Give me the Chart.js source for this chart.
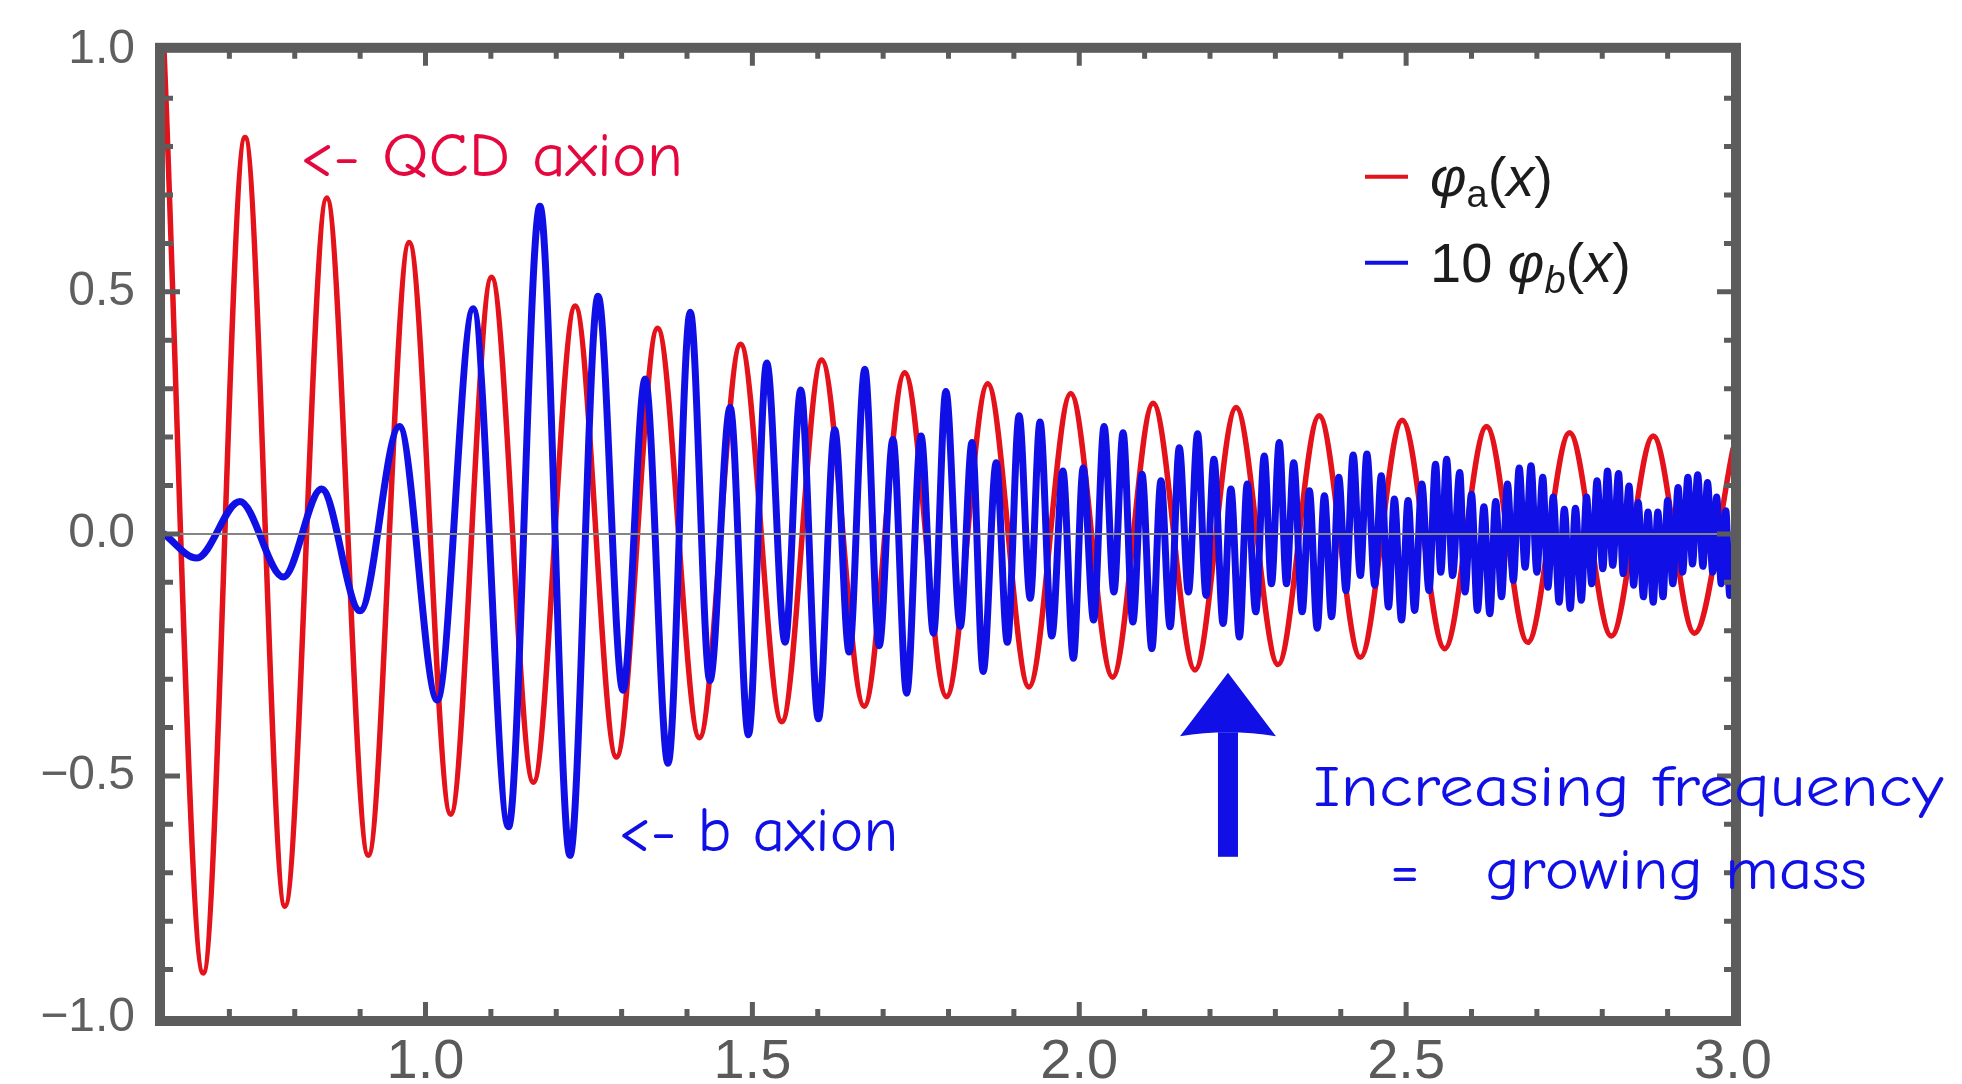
<!DOCTYPE html>
<html>
<head>
<meta charset="utf-8">
<title>QCD axion and b axion oscillations</title>
<script src="https://cdn.jsdelivr.net/npm/chart.js@4.4.1/dist/chart.umd.min.js"></script>
<style>
  html, body { margin: 0; padding: 0; background: #ffffff; }
  canvas { display: block; }
</style>
</head>
<body>
<canvas id="chart" width="1962" height="1084"></canvas>
<script>
// phi_a(x): peaks and troughs
const redX = [0.600, 0.660, 0.724, 0.785, 0.849, 0.9125, 0.975, 1.0385,
              1.101, 1.165, 1.229, 1.292, 1.355, 1.419, 1.482, 1.545,
              1.606, 1.671, 1.733, 1.797, 1.860, 1.923, 1.987, 2.051,
              2.113, 2.177, 2.240, 2.304, 2.367, 2.430, 2.494,
              2.559, 2.623, 2.686, 2.750, 2.814, 2.878, 2.941, 3.000];
const redY = [1.000, -0.907, 0.819, -0.769, 0.694, -0.664, 0.602, -0.579,
              0.530, -0.513, 0.471, -0.461, 0.425, -0.421, 0.392, -0.388,
              0.359, -0.356, 0.333, -0.336, 0.310, -0.316, 0.290, -0.296,
              0.270, -0.281, 0.261, -0.270, 0.244, -0.255, 0.235,
              -0.237, 0.222, -0.224, 0.209, -0.211, 0.202, -0.205, 0.176];

// 10 phi_b(x): peaks and troughs
const blueX = [0.600, 0.650, 0.716, 0.7825, 0.841, 0.900, 0.960, 1.018,
               1.073, 1.127, 1.175, 1.221, 1.264, 1.302, 1.336, 1.371,
               1.405, 1.435, 1.466, 1.494, 1.522, 1.550, 1.574, 1.601,
               1.626, 1.648, 1.672, 1.694, 1.715, 1.736, 1.758, 1.777,
               1.796, 1.818, 1.836, 1.853, 1.873, 1.890, 1.908, 1.925,
               1.940, 1.958, 1.975, 1.991, 2.006, 2.022, 2.038, 2.053,
               2.067, 2.082, 2.096, 2.111, 2.125, 2.139, 2.153, 2.167,
               2.181, 2.194, 2.206, 2.220, 2.232, 2.245, 2.257, 2.270,
               2.283, 2.294, 2.306, 2.317, 2.328, 2.341, 2.352, 2.364,
               2.375, 2.386, 2.397, 2.408, 2.419, 2.430, 2.440, 2.452,
               2.462, 2.473, 2.482, 2.493, 2.503, 2.513, 2.524, 2.535,
               2.545, 2.553, 2.562, 2.571, 2.582, 2.590, 2.600, 2.609,
               2.619, 2.628, 2.637, 2.646, 2.655, 2.664, 2.673, 2.682,
               2.691, 2.700, 2.709, 2.717, 2.725, 2.734, 2.742, 2.751,
               2.759, 2.768, 2.776, 2.784, 2.792, 2.801, 2.808, 2.816,
               2.825, 2.832, 2.841, 2.848, 2.855, 2.863, 2.870, 2.878,
               2.885, 2.893, 2.900, 2.908, 2.916, 2.923, 2.931, 2.938,
               2.946, 2.954, 2.961, 2.969, 2.975, 2.982, 2.989, 2.995,
               3.000];
const blueY = [0.000, -0.050, 0.067, -0.089, 0.093, -0.159, 0.222, -0.343,
               0.465, -0.605, 0.677, -0.664, 0.491, -0.323, 0.320, -0.474,
               0.458, -0.303, 0.261, -0.415, 0.353, -0.224, 0.297, -0.382,
               0.215, -0.244, 0.340, -0.231, 0.195, -0.329, 0.202, -0.205,
               0.294, -0.191, 0.189, -0.284, 0.147, -0.224, 0.244, -0.133,
               0.231, -0.211, 0.130, -0.257, 0.136, -0.178, 0.222, -0.120,
               0.209, -0.182, 0.123, -0.237, 0.110, -0.192, 0.178, -0.120,
               0.207, -0.127, 0.154, -0.185, 0.093, -0.213, 0.103, -0.161,
               0.161, -0.103, 0.189, -0.103, 0.147, -0.161, 0.089, -0.195,
               0.079, -0.171, 0.117, -0.117, 0.163, -0.086, 0.165, -0.106,
               0.120, -0.151, 0.072, -0.178, 0.069, -0.158, 0.103, -0.117,
               0.144, -0.079, 0.154, -0.086, 0.127, -0.120, 0.082, -0.158,
               0.056, -0.165, 0.067, -0.130, 0.103, -0.096, 0.136, -0.069,
               0.141, -0.079, 0.117, -0.110, 0.076, -0.141, 0.051, -0.154,
               0.053, -0.137, 0.076, -0.103, 0.110, -0.072, 0.130, -0.065,
               0.125, -0.082, 0.099, -0.106, 0.065, -0.130, 0.045, -0.141,
               0.045, -0.130, 0.069, -0.103, 0.096, -0.079, 0.117, -0.062,
               0.122, -0.067, 0.106, -0.079, 0.076, -0.103, 0.048, -0.127,
               -0.050];

const xTickVals = [1.0, 1.5, 2.0, 2.5, 3.0];
const xTickLabels = ['1.0', '1.5', '2.0', '2.5', '3.0'];
const yTickVals = [-1.0, -0.5, 0.0, 0.5, 1.0];
const yTickLabels = ['\u22121.0', '\u22120.5', '0.0', '0.5', '1.0'];
const seriesNames = ['\u03c6a(x)', '10 \u03c6b(x)'];

const RED = '#e3121b';
const BLUE = '#1010e6';
const FRAME = '#5c5c5c';
const NOTE_FONT = '"Comic Sans MS", "Comic Neue", "Open Sans", sans-serif';

// hand-written notes, anchored in data units (left edge, baseline)
const notes = [
    { text: '<- QCD axion', x: 0.808, y: 0.739, width: 383, size: 62, color: '#e5083f' },
    { text: '<- b axion', x: 1.295, y: -0.654, width: 280, size: 62, color: BLUE },
    { text: 'Increasing frequency', x: 2.358, y: -0.562, width: 630, size: 58, color: BLUE },
    { text: '=   growing mass', x: 2.475, y: -0.733, width: 477, size: 58, color: BLUE }
];
const arrow = { x: 2.2275, tip: -0.287, headBase: -0.418, tail: -0.667 };

function zip(xs, ys) {
    return xs.map((x, i) => ({ x: x, y: ys[i] }));
}

function fitText(ctx, text, x, y, width, font, color) {
    ctx.font = font;
    const w = ctx.measureText(text).width;
    ctx.save();
    ctx.translate(x, y);
    ctx.scale(width / w, 1);
    ctx.fillStyle = color;
    ctx.textAlign = 'left';
    ctx.textBaseline = 'alphabetic';
    ctx.fillText(text, 0, 0);
    ctx.restore();
}

function drawRich(ctx, parts, x, y, base, color) {
    ctx.fillStyle = color;
    ctx.textAlign = 'left';
    ctx.textBaseline = 'alphabetic';
    parts.forEach(p => {
        const size = p.sub ? Math.round(base * 0.68) : base;
        ctx.font = (p.it ? 'italic ' : '') + size + 'px "Liberation Sans", Arial, sans-serif';
        ctx.fillText(p.t, x, y + (p.sub ? base * 0.2 : 0));
        x += ctx.measureText(p.t).width;
    });
}

const framePlugin = {
    id: 'frame',
    afterDatasetsDraw(chart) {
        const { ctx, chartArea: a, scales: { x, y } } = chart;
        ctx.save();

        // y = 0 axis line
        const y0 = y.getPixelForValue(0);
        ctx.strokeStyle = '#858585';
        ctx.lineWidth = 2;
        ctx.beginPath();
        ctx.moveTo(a.left, y0);
        ctx.lineTo(a.right, y0);
        ctx.stroke();

        // frame
        ctx.strokeStyle = FRAME;
        ctx.lineWidth = 10;
        ctx.strokeRect(a.left - 4, a.top - 2, a.right - a.left + 7, a.bottom - a.top + 5);

        // inward ticks, major every 0.5, minor every 0.1
        ctx.lineWidth = 5;
        for (let i = 7; i < 30; i++) {
            const px = x.getPixelForValue(i / 10);
            const len = i % 5 === 0 ? 16 : 9;
            ctx.beginPath();
            ctx.moveTo(px, a.bottom + 2); ctx.lineTo(px, a.bottom - len);
            ctx.moveTo(px, a.top - 2); ctx.lineTo(px, a.top + len);
            ctx.stroke();
        }
        for (let i = -9; i < 10; i++) {
            const py = y.getPixelForValue(i / 10);
            const len = i % 5 === 0 ? 16 : 9;
            ctx.beginPath();
            ctx.moveTo(a.left - 2, py); ctx.lineTo(a.left + len, py);
            ctx.moveTo(a.right + 2, py); ctx.lineTo(a.right - len, py);
            ctx.stroke();
        }
        ctx.restore();
    },
    afterDraw(chart) {
        const { ctx, chartArea: a, scales: { x, y } } = chart;
        ctx.save();

        // legend
        const lx = a.right - 368;
        const rows = [
            { color: RED, parts: [{ t: '\u03c6', it: true }, { t: 'a', sub: true }, { t: '(' }, { t: 'x', it: true }, { t: ')' }], base: a.top + 146 },
            { color: BLUE, parts: [{ t: '10 ' }, { t: '\u03c6', it: true }, { t: 'b', sub: true, it: true }, { t: '(' }, { t: 'x', it: true }, { t: ')' }], base: a.top + 232 }
        ];
        rows.forEach(r => {
            ctx.strokeStyle = r.color;
            ctx.lineWidth = 4;
            ctx.beginPath();
            ctx.moveTo(lx, r.base - 19);
            ctx.lineTo(lx + 43, r.base - 19);
            ctx.stroke();
            drawRich(ctx, r.parts, lx + 65, r.base, 56, '#1c1c1c');
        });

        // arrow
        const ax = x.getPixelForValue(arrow.x);
        const tipY = y.getPixelForValue(arrow.tip);
        const baseY = y.getPixelForValue(arrow.headBase);
        const tailY = y.getPixelForValue(arrow.tail);
        ctx.fillStyle = BLUE;
        ctx.fillRect(ax - 10, baseY - 4, 20, tailY - baseY + 4);
        ctx.beginPath();
        ctx.moveTo(ax, tipY);
        ctx.lineTo(ax + 48, baseY);
        ctx.quadraticCurveTo(ax, baseY - 8, ax - 48, baseY);
        ctx.closePath();
        ctx.fill();

        // notes
        notes.forEach(n => {
            fitText(ctx, n.text, x.getPixelForValue(n.x), y.getPixelForValue(n.y), n.width,
                n.size + 'px ' + NOTE_FONT, n.color);
        });
        ctx.restore();
    }
};

new Chart(document.getElementById('chart').getContext('2d'), {
    type: 'line',
    data: {
        datasets: [
            {
                label: seriesNames[0],
                data: zip(redX, redY),
                borderColor: RED,
                borderWidth: 5.5,
                order: 2
            },
            {
                label: seriesNames[1],
                data: zip(blueX, blueY),
                borderColor: BLUE,
                borderWidth: 7,
                order: 1
            }
        ]
    },
    options: {
        responsive: false,
        devicePixelRatio: 1,
        animation: false,
        layout: { padding: { top: 45, right: 229, left: 0, bottom: 0 } },
        elements: {
            point: { radius: 0, hoverRadius: 0 },
            line: { cubicInterpolationMode: 'monotone', fill: false, borderJoinStyle: 'round', borderCapStyle: 'round' }
        },
        plugins: {
            legend: { display: false },
            tooltip: { enabled: false }
        },
        scales: {
            x: {
                type: 'linear',
                min: 0.6,
                max: 3.0,
                grid: { display: false },
                border: { display: false },
                afterFit: s => { s.height = 66; },
                afterBuildTicks: s => { s.ticks = xTickVals.map(v => ({ value: v })); },
                ticks: {
                    autoSkip: false,
                    maxRotation: 0,
                    padding: 3,
                    color: '#5a5a5a',
                    font: { family: '"Liberation Sans Narrow", "Liberation Sans", Arial, sans-serif', size: 56 },
                    callback: (v, i) => xTickLabels[i]
                }
            },
            y: {
                type: 'linear',
                min: -1,
                max: 1,
                grid: { display: false },
                border: { display: false },
                afterFit: s => { s.width = 164; },
                afterBuildTicks: s => { s.ticks = yTickVals.map(v => ({ value: v })); },
                ticks: {
                    autoSkip: false,
                    padding: 21,
                    color: '#5f5f5f',
                    font: { family: '"Liberation Sans", Arial, sans-serif', size: 48 },
                    callback: (v, i) => yTickLabels[i]
                }
            }
        }
    },
    plugins: [framePlugin]
});
</script>
</body>
</html>
